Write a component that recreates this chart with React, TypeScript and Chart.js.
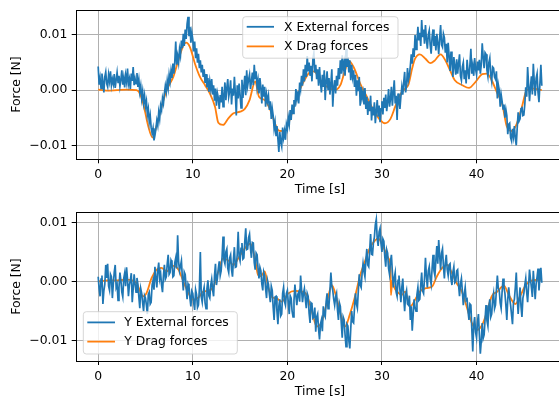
import React, { useEffect, useRef } from "react";
import { Chart, registerables } from "chart.js";

Chart.register(...registerables);

// ---- data (forces, in millinewtons) -----------------------------------
const FORCE_UNIT = 0.001; // mN -> N
const sampleStep = 0.1; // seconds between samples of the external-force signals
const xTicks = [0, 10, 20, 30, 40];
const yTicks = [-0.01, 0, 0.01];
const yTickLabels = ["\u22120.01", "0.00", "0.01"];

const xExternalForce = [
  4.3, 1.0, 2.2, 0.3, 3.0, 1.5, -0.4, 2.4, 3.3, 1.2,
  0.6, 2.8, 1.6, 3.4, 0.9, 2.0, 1.1, 2.9, 0.4, 1.8,
  3.2, 1.4, 2.6, 0.7, 1.9, 3.6, 1.0, 2.3, 0.5, 2.7,
  1.5, 3.9, 1.1, 2.0, 0.2, 3.0, 1.7, 4.2, 0.9, 2.1,
  1.2, 3.1, 0.6, 1.9, -0.3, 0.8, -1.5, -0.2, -2.3, -1.0,
  -3.0, -2.0, -4.5, -3.4, -5.8, -4.6, -6.8, -7.8, -6.9, -9.1,
  -8.2, -7.0, -5.5, -6.4, -4.0, -5.2, -2.8, -3.6, -1.5, -2.4,
  -0.6, 0.8, -0.3, 1.7, 0.4, 2.8, 1.6, 3.5, 2.2, 4.8,
  3.0, 5.2, 8.8, 4.6, 6.2, 5.0, 7.4, 6.3, 9.0, 7.6,
  10.2, 8.0, 11.0, 9.3, 12.0, 13.3, 9.8, 11.5, 8.6, 10.4,
  9.2, 7.0, 8.8, 5.8, 7.6, 5.0, 6.6, 4.0, 5.4, 3.2,
  4.6, 2.4, 3.8, 1.3, 2.9, 0.5, 2.2, -0.3, 1.6, 0.2,
  2.0, -0.8, 0.9, -1.9, 0.3, -2.8, -0.5, -1.4, -3.4, -0.9,
  -2.2, 0.6, -3.0, -1.0, 1.4, -1.8, 0.4, 2.0, -1.2, -0.2,
  1.8, -2.6, 0.3, -1.0, 2.4, -0.6, -4.6, 0.9, -1.5, 1.2,
  -0.8, -3.2, 1.9, -1.4, 0.6, 2.6, -0.9, 3.6, 0.8, 1.9,
  2.8, 0.2, 1.6, 3.2, 0.9, 4.6, 2.0, 3.4, 0.6, 1.8,
  -0.6, 2.2, 0.4, -2.4, 1.0, -1.2, 0.6, -3.0, -0.8, -2.0,
  -1.0, -3.6, -2.0, -5.2, -3.3, -4.6, -7.0, -5.8, -8.2, -6.5,
  -8.8, -11.2, -7.6, -9.4, -10.2, -6.8, -8.6, -7.4, -9.0, -6.2,
  -7.0, -5.0, -6.2, -3.6, -5.4, -2.6, -4.2, -1.8, -3.0, 0.2,
  -1.6, -0.2, -2.4, 1.4, 0.2, 2.6, 0.8, 3.8, 1.6, 4.6,
  2.4, 6.2, 3.4, 5.0, 2.6, 4.4, 1.6, 5.6, 6.7, 3.2,
  4.6, 2.0, 3.8, 0.8, 4.2, 1.4, -0.4, 2.8, 0.6, 3.6,
  -1.8, 1.6, 3.4, 0.2, 2.2, -0.8, 1.2, 3.8, -3.0, 0.4,
  1.8, -0.6, 2.6, 0.8, 4.0, 2.0, 5.4, 3.0, 6.3, 3.8,
  5.0, 2.6, 7.5, 4.2, 6.0, 3.2, 5.4, 1.8, 4.6, 2.4,
  3.6, 0.6, 2.8, -1.0, 1.8, -0.2, 2.4, -2.8, 0.6, -1.4,
  -0.4, -2.6, 0.4, -3.4, -1.2, -4.5, -2.0, -3.8, -1.0, -5.5,
  -3.0, -4.6, -2.2, -6.0, -3.8, -1.8, -4.8, -2.8, -5.8, -3.4,
  -2.0, -4.4, -1.4, -3.2, -0.8, -3.8, -2.2, 0.2, -3.0, -1.6,
  0.6, -2.8, -0.4, 1.8, -2.4, -1.0, -5.4, -0.6, -2.0, -3.4,
  -1.2, 0.6, -0.8, 1.4, 3.3, -0.4, 0.8, 4.0, 1.8, 2.6,
  4.4, 6.5, 4.8, 7.6, 6.0, 10.0, 7.4, 8.8, 11.5, 9.0,
  10.4, 8.0, 12.7, 9.6, 11.0, 8.4, 11.8, 9.2, 7.5, 10.0,
  10.8, 8.2, 6.6, 9.6, 11.0, 8.0, 9.8, 7.2, 10.2, 8.6,
  6.5, 9.4, 11.8, 8.2, 7.8, 10.2, 9.5, 6.8, 8.4, 5.0,
  8.6, 6.2, 3.5, 7.0, 5.2, 2.4, 6.0, 4.4, 2.8, 5.6,
  3.0, 4.8, 6.5, 2.6, 1.8, 4.2, 5.0, 2.0, 3.6, 1.2,
  5.5, 3.4, 2.0, 4.6, 7.5, 3.0, 4.4, 2.6, 5.8, 3.8,
  2.8, 5.2, 3.6, 5.5, 3.0, 4.6, 8.5, 6.0, 4.0, 6.8,
  6.5, 3.6, 2.5, 5.0, 5.8, 2.8, 1.6, 4.2, 4.0, 2.4,
  2.0, 3.4, -1.5, 1.0, 0.0, -3.0, -0.8, -2.0, -3.4, -2.6,
  -5.0, -3.5, -4.6, -8.0, -6.2, -6.0, -8.6, -9.2, -7.0, -8.4,
  -6.5, -8.8, -10.0, -6.8, -4.0, -5.6, -5.2, -3.4, -3.0, -4.6,
  -4.5, -2.6, 0.5, -1.2, 4.2, 1.0, -2.0, 0.6, 2.5, -0.8,
  4.8, 1.6, -1.0, 2.2, 3.0, -0.4, -2.2, 1.2, 4.6, 0.8,
];

const xDragTime = [
  0, 0.5, 1, 2, 3, 4, 4.3, 4.76, 5.3, 5.75,
  6.2, 6.7, 7.24, 7.94, 8.47, 9.0, 9.3, 9.7, 10.23, 10.76,
  11.3, 11.8, 12.35, 12.7, 13.2, 13.76, 14.3, 15.0, 15.5, 16.0,
  16.6, 17.0, 17.6, 18.2, 18.9, 19.2, 19.76, 20.3, 20.8, 21.3,
  21.9, 22.4, 22.8, 23.5, 24.2, 25.0, 25.6, 26.1, 26.5, 27.0,
  27.7, 28.4, 29.1, 29.8, 30.3, 30.9, 31.4, 31.9, 32.4, 32.8,
  33.2, 33.5, 34.0, 34.6, 35.1, 35.6, 36.2, 36.7, 37.2, 37.7,
  38.5, 39.2, 39.9, 40.6, 41.1, 41.6, 42.2, 42.7, 43.2, 43.7,
  44.2, 44.8, 45.3, 45.9, 46.4, 46.9,
];
const xDragForce = [
  0.1, 0.0, -0.1, 0.0, 0.1, 0.0, -0.3, -2.4, -6.6, -8.6,
  -6.3, -3.0, 0.0, 2.4, 5.4, 8.1, 8.6, 7.8, 4.8, 2.4,
  0.9, -0.6, -3.0, -5.9, -6.3, -5.1, -4.2, -3.9, -3.4, -1.8,
  1.6, -1.2, -1.8, -3.6, -6.9, -7.4, -7.3, -5.1, -2.4, 0.0,
  2.1, 3.3, 3.4, 1.8, 0.6, 0.0, 0.9, 3.6, 5.3, 4.2,
  1.2, -1.2, -3.6, -5.4, -6.0, -5.2, -3.0, -0.9, 0.2, 1.0,
  4.0, 5.7, 6.5, 5.7, 4.9, 5.4, 6.5, 5.4, 3.6, 1.8,
  0.9, 0.4, 1.5, 2.9, 3.0, 1.8, -0.6, -2.4, -6.6, -7.4,
  -6.3, -3.0, 0.0, 0.3, 0.2, 0.0,
];

const yExternalForce = [
  0.8, -1.2, -2.5, 0.4, 1.0, -3.8, -1.6, -0.5, 2.8, 0.6,
  3.0, -0.8, -1.5, 1.2, 0.8, -2.8, -0.4, 1.6, 2.8, -1.0,
  -0.5, -3.2, -1.0, 1.5, 0.2, -1.8, -2.6, 0.5, 1.4, -0.8,
  2.4, 0.4, -2.5, -0.6, 0.2, 1.4, -3.5, -1.2, 1.2, -0.4,
  -1.8, 0.6, -0.5, -2.6, -4.5, -1.2, -2.0, -3.6, -5.0, -2.4,
  -2.8, -4.0, -5.5, -2.2, -1.8, -3.8, -3.5, -0.6, 0.2, -1.4,
  2.5, 0.6, -1.0, 1.8, 3.2, 0.5, 1.4, -0.6, -1.8, 1.0,
  2.8, 0.4, 0.8, 3.0, 4.5, 1.2, 1.5, 3.6, 3.2, 0.8,
  1.0, 3.2, 4.0, 2.2, 7.8, 3.4, 1.8, 2.6, 3.5, 0.6,
  -1.5, 1.6, 1.2, -1.0, -3.0, -0.4, -0.8, -2.8, -4.2, -1.6,
  -2.0, -3.6, -4.8, -1.4, -2.2, -4.4, -4.0, -1.2, 5.0, -2.6,
  -3.5, -1.8, -1.0, -3.6, -4.6, -1.2, 0.2, -2.4, -2.8, -0.6,
  0.4, -1.4, -2.5, 1.0, 3.0, -0.6, 0.5, 2.2, 3.4, 1.0,
  1.8, 4.2, 7.6, 3.6, 3.0, 5.0, 5.5, 2.2, 1.5, 4.0,
  4.5, 2.0, 0.8, 3.8, 5.8, 2.4, 2.5, 4.6, 8.4, 4.2,
  3.5, 5.6, 6.5, 3.8, 4.0, 6.8, 9.0, 5.4, 5.5, 7.4,
  8.0, 5.6, 4.0, 6.6, 6.5, 3.2, 2.0, 4.8, 4.5, 2.2,
  0.5, 2.4, 1.8, -0.4, -1.5, 1.6, 1.0, -1.2, -2.8, 0.2,
  -0.5, -2.2, -3.5, -0.8, -1.5, -4.4, -6.5, -2.6, -2.5, -5.0,
  -7.2, -4.2, -3.0, -5.8, -5.5, -2.0, -1.0, -3.4, -4.0, -2.0,
  -1.5, -3.6, -5.5, -2.4, -2.8, -5.0, -6.0, -3.2, -0.5, -2.4,
  -4.0, -2.2, -1.8, -3.4, 1.0, -1.4, -3.5, -2.0, -1.2, -3.0,
  -4.5, -2.0, -2.5, -5.4, -7.0, -3.6, -3.8, -6.2, -6.0, -4.4,
  -8.5, -6.0, -5.5, -8.0, -9.8, -7.2, -6.5, -8.4, -4.2, -5.6,
  -6.0, -3.4, -2.0, -4.6, -4.0, -1.6, 1.5, -0.8, -1.5, -3.0,
  -4.0, -2.6, -2.0, -4.8, -6.5, -3.6, -4.2, -7.0, -9.5, -6.0,
  -6.5, -9.0, -11.0, -7.2, -7.5, -10.0, -11.3, -8.0, -5.0, -6.8,
  -7.0, -4.4, -2.0, -3.8, -4.5, -1.6, 1.2, -0.6, -1.0, 1.4,
  3.0, 1.6, 0.8, 3.6, 5.5, 2.8, 2.5, 5.2, 8.0, 4.6,
  4.5, 6.6, 7.5, 9.6, 10.5, 7.2, 6.0, 8.4, 9.0, 6.4,
  5.0, 7.2, 6.8, 4.2, 2.5, 5.4, 4.8, 2.2, 1.2, 3.4,
  4.5, 1.6, -1.0, 0.6, 1.5, -1.8, -2.5, 0.2, 1.0, -1.4,
  -3.5, -1.0, 0.5, -2.6, -5.0, -2.2, -1.5, -3.8, -4.0, -2.4,
  -6.5, -4.2, -8.3, -5.6, -3.0, -4.4, -5.0, -2.2, -1.0, -3.2,
  -3.0, -0.6, 1.5, -1.6, -2.0, 0.6, 4.0, 0.8, -1.0, 1.8,
  2.5, 0.4, -0.5, 2.2, 4.5, 1.8, 1.0, 3.6, 6.0, 3.0,
  7.0, 4.4, 2.0, 4.8, 5.5, 2.6, 0.5, 3.2, 4.5, 2.0,
  1.0, 2.8, 3.0, 0.4, -0.6, 1.6, 2.5, -0.2, 0.0, 1.8,
  2.0, -0.6, -2.5, -0.4, 0.5, -1.6, -4.0, -2.2, -1.0, -3.2,
  -3.0, -5.0, -6.5, -3.8, -4.0, -8.0, -11.8, -7.4, -6.0, -8.6,
  -9.5, -6.8, -5.5, -9.0, -12.2, -10.0, -7.0, -9.6, -9.0, -6.4,
  -4.0, -6.6, -7.5, -4.2, -3.0, -6.0, -5.5, -3.0, -2.0, -4.6,
  -4.0, -1.4, 1.0, -1.2, -1.5, -3.6, -4.5, -1.8, 0.5, -1.0,
  -2.0, -4.0, -6.5, -3.0, -1.0, -2.8, -4.0, -5.6, -7.2, -3.6,
  -3.0, -1.0, 1.5, -2.6, -5.5, -3.0, -1.0, -4.2, -6.0, -2.8,
  -2.0, -0.6, 0.5, -1.8, -3.5, -0.8, 2.0, 0.4, -1.0, -2.6,
  1.8, -0.6, -3.0, -0.4, 0.8, 2.2, -1.5, 0.6, 2.3, -0.2,
];

const yDragTime = [
  0, 0.5, 1, 2, 3, 3.6, 4.06, 4.76, 5.1, 5.65,
  6.18, 6.7, 7.24, 7.94, 8.5, 9.0, 9.55, 10.05, 10.6, 11.1,
  11.6, 12.2, 12.7, 13.2, 13.8, 14.3, 14.8, 15.5, 16.1, 16.6,
  16.9, 17.2, 17.6, 18.0, 18.35, 18.9, 19.4, 20.1, 20.8, 21.5,
  22.05, 22.6, 23.1, 23.6, 24.2, 24.7, 25.2, 25.75, 26.1, 26.6,
  27.2, 27.7, 28.2, 28.7, 29.3, 29.6, 30.2, 30.7, 30.9, 30.95,
  31.1, 31.3, 31.6, 32.1, 32.45, 33.0, 33.5, 34.0, 34.75, 35.3,
  35.8, 36.35, 36.9, 37.4, 37.9, 38.45, 39.0, 39.5, 40.0, 40.6,
  41.1, 41.6, 42.2, 42.9, 43.4, 44.1, 44.6, 45.2, 45.9, 46.9,
];
const yDragForce = [
  0.0, 0.1, 0.2, 0.2, 0.3, 0.2, -0.3, -2.5, -2.0, 0.6,
  2.0, 2.3, 1.7, 2.65, 2.0, 0.0, -2.0, -3.1, -2.7, -1.7,
  -1.6, -0.85, 1.7, 3.9, 3.5, 2.8, 3.9, 5.6, 6.4, 3.6,
  1.1, 0.9, 1.7, -1.1, -2.6, -2.9, -3.4, -2.0, -1.6, -1.7,
  -2.25, -5.1, -7.6, -7.0, -3.4, -0.6, -2.8, -6.2, -7.6, -5.6,
  -2.25, 1.1, 3.4, 5.6, 7.0, 7.3, 5.6, 3.9, 2.4, -2.3,
  0.2, -1.0, -1.7, -2.25, -1.7, -4.2, -3.1, -1.7, -1.1, -0.85,
  0.85, 2.25, 2.8, 1.4, -0.3, -1.7, -4.5, -7.0, -8.2, -7.3,
  -5.1, -2.5, -1.7, -0.7, -2.25, -3.8, -2.5, -0.6, 0.2, 0.3,
];

// ---- styling ----------------------------------------------------------
const FONT = { family: '"DejaVu Sans", sans-serif', size: 12.4 };
const BLUE = "#1f77b4";
const ORANGE = "#ff7f0e";
const CANVAS_W = 580;
const CANVAS_H = 200;

type LegendSpec = {
  box: { x: number; y: number; w: number; h: number };
  rows: { label: string; color: string; y: number }[];
  handleX0: number;
  handleX1: number;
  textX: number;
};

const framePlugin = {
  id: "frame",
  afterDraw(chart: any) {
    const { ctx, chartArea: a } = chart;
    ctx.save();
    ctx.strokeStyle = "#000";
    ctx.lineWidth = 1;
    const l = Math.round(a.left) + 0.5;
    const t = Math.round(a.top) + 0.5;
    const r = Math.round(a.right) + 0.5;
    const b = Math.round(a.bottom) + 0.5;
    ctx.strokeRect(l, t, r - l, b - t);
    ctx.restore();
  },
};

function makeLegendPlugin(spec: LegendSpec) {
  return {
    id: "mplLegend",
    afterDraw(chart: any) {
      const ctx = chart.ctx as CanvasRenderingContext2D;
      const { box } = spec;
      ctx.save();
      ctx.beginPath();
      (ctx as any).roundRect(box.x, box.y, box.w, box.h, 3);
      ctx.fillStyle = "rgba(255,255,255,0.8)";
      ctx.fill();
      ctx.strokeStyle = "rgba(204,204,204,0.8)";
      ctx.lineWidth = 1;
      ctx.stroke();
      ctx.font = `${FONT.size}px ${FONT.family}`;
      ctx.textBaseline = "middle";
      ctx.textAlign = "left";
      for (const row of spec.rows) {
        ctx.beginPath();
        ctx.moveTo(spec.handleX0, row.y);
        ctx.lineTo(spec.handleX1, row.y);
        ctx.strokeStyle = row.color;
        ctx.lineWidth = 1.8;
        ctx.stroke();
        ctx.fillStyle = "#000";
        ctx.fillText(row.label, spec.textX, row.y + 0.5);
      }
      ctx.restore();
    },
  };
}

type PanelSpec = {
  external: number[];
  dragTime: number[];
  dragForce: number[];
  externalLabel: string;
  dragLabel: string;
  yMin: number;
  yMax: number;
  areaTop: number;
  xAxisHeight: number;
  xTitleBottomPad: number;
  legend: LegendSpec;
};

function buildConfig(p: PanelSpec): any {
  const gridOpts = {
    color: "#b0b0b0",
    lineWidth: 1,
    tickColor: "#000",
    tickWidth: 1,
    tickLength: 4.3,
    drawTicks: true,
  };
  return {
    type: "line",
    data: {
      datasets: [
        {
          label: p.externalLabel,
          data: p.external.map((v, i) => ({ x: i * sampleStep, y: v * FORCE_UNIT })),
          borderColor: BLUE,
          backgroundColor: BLUE,
          borderWidth: 1.7,
          pointRadius: 0,
          tension: 0,
          fill: false,
        },
        {
          label: p.dragLabel,
          data: p.dragTime.map((t, i) => ({ x: t, y: p.dragForce[i] * FORCE_UNIT })),
          borderColor: ORANGE,
          backgroundColor: ORANGE,
          borderWidth: 1.8,
          pointRadius: 0,
          cubicInterpolationMode: "monotone",
          fill: false,
        },
      ],
    },
    options: {
      responsive: false,
      animation: false,
      devicePixelRatio: 1,
      events: [],
      layout: { padding: { left: 0, right: CANVAS_W - 564, top: p.areaTop, bottom: 0 } },
      plugins: { legend: { display: false }, tooltip: { enabled: false }, title: { display: false } },
      scales: {
        x: {
          type: "linear",
          min: -2.345,
          max: 49.245,
          afterBuildTicks: (s: any) => {
            s.ticks = xTicks.map((v) => ({ value: v }));
          },
          afterFit: (s: any) => {
            s.height = p.xAxisHeight;
            s.paddingLeft = 0;
            s.paddingRight = 0;
            s.paddingTop = 0;
            s.paddingBottom = 0;
          },
          ticks: {
            autoSkip: false,
            maxRotation: 0,
            minRotation: 0,
            padding: 4,
            color: "#000",
            font: FONT,
            callback: (v: number) => String(v),
          },
          grid: gridOpts,
          border: { display: false },
          title: {
            display: true,
            text: "Time [s]",
            color: "#000",
            font: FONT,
            padding: { top: 0, bottom: p.xTitleBottomPad },
          },
        },
        y: {
          type: "linear",
          min: p.yMin,
          max: p.yMax,
          afterBuildTicks: (s: any) => {
            s.ticks = yTicks.map((v) => ({ value: v }));
          },
          afterFit: (s: any) => {
            s.width = 76;
            s.paddingLeft = 0;
            s.paddingRight = 0;
            s.paddingTop = 0;
            s.paddingBottom = 0;
          },
          ticks: {
            autoSkip: false,
            padding: 4.4,
            color: "#000",
            font: FONT,
            callback: (v: number) => {
              const i = yTicks.indexOf(v);
              return i >= 0 ? yTickLabels[i] : "";
            },
          },
          grid: gridOpts,
          border: { display: false },
          title: {
            display: true,
            text: "Force [N]",
            color: "#000",
            font: FONT,
            padding: { top: 9, bottom: 0 },
          },
        },
      },
    },
    plugins: [framePlugin, makeLegendPlugin(p.legend)],
  };
}

const topPanel: PanelSpec = {
  external: xExternalForce,
  dragTime: xDragTime,
  dragForce: xDragForce,
  externalLabel: "X External forces",
  dragLabel: "X Drag forces",
  yMin: -0.01248,
  yMax: 0.01453,
  areaTop: 10,
  xAxisHeight: 41,
  xTitleBottomPad: 2.6,
  legend: {
    box: { x: 242.7, y: 16.7, w: 155.3, h: 41.5 },
    rows: [
      { label: "X External forces", color: BLUE, y: 26.8 },
      { label: "X Drag forces", color: ORANGE, y: 46.4 },
    ],
    handleX0: 246.7,
    handleX1: 274,
    textX: 284,
  },
};

const bottomPanel: PanelSpec = {
  external: yExternalForce,
  dragTime: yDragTime,
  dragForce: yDragForce,
  externalLabel: "Y External forces",
  dragLabel: "Y Drag forces",
  yMin: -0.01338,
  yMax: 0.01169,
  areaTop: 12.3,
  xAxisHeight: 39.3,
  xTitleBottomPad: 0.9,
  legend: {
    box: { x: 83.3, y: 111.7, w: 154, h: 42.3 },
    rows: [
      { label: "Y External forces", color: BLUE, y: 122.4 },
      { label: "Y Drag forces", color: ORANGE, y: 141.6 },
    ],
    handleX0: 87.3,
    handleX1: 115,
    textX: 124.3,
  },
};

export default function App() {
  const topRef = useRef<HTMLCanvasElement | null>(null);
  const bottomRef = useRef<HTMLCanvasElement | null>(null);

  useEffect(() => {
    if (!topRef.current || !bottomRef.current) return;
    const c1 = new Chart(topRef.current, buildConfig(topPanel));
    const c2 = new Chart(bottomRef.current, buildConfig(bottomPanel));
    return () => {
      c1.destroy();
      c2.destroy();
    };
  }, []);

  const canvasStyle = (top: number): React.CSSProperties => ({
    position: "absolute",
    left: 0,
    top,
    width: CANVAS_W,
    height: CANVAS_H,
    display: "block",
  });

  return (
    <div
      style={{
        position: "fixed",
        left: 0,
        top: 0,
        width: 559,
        height: 398,
        overflow: "hidden",
        background: "#fff",
      }}
    >
      <canvas ref={topRef} width={CANVAS_W} height={CANVAS_H} style={canvasStyle(0)} />
      <canvas ref={bottomRef} width={CANVAS_W} height={CANVAS_H} style={canvasStyle(200)} />
    </div>
  );
}
